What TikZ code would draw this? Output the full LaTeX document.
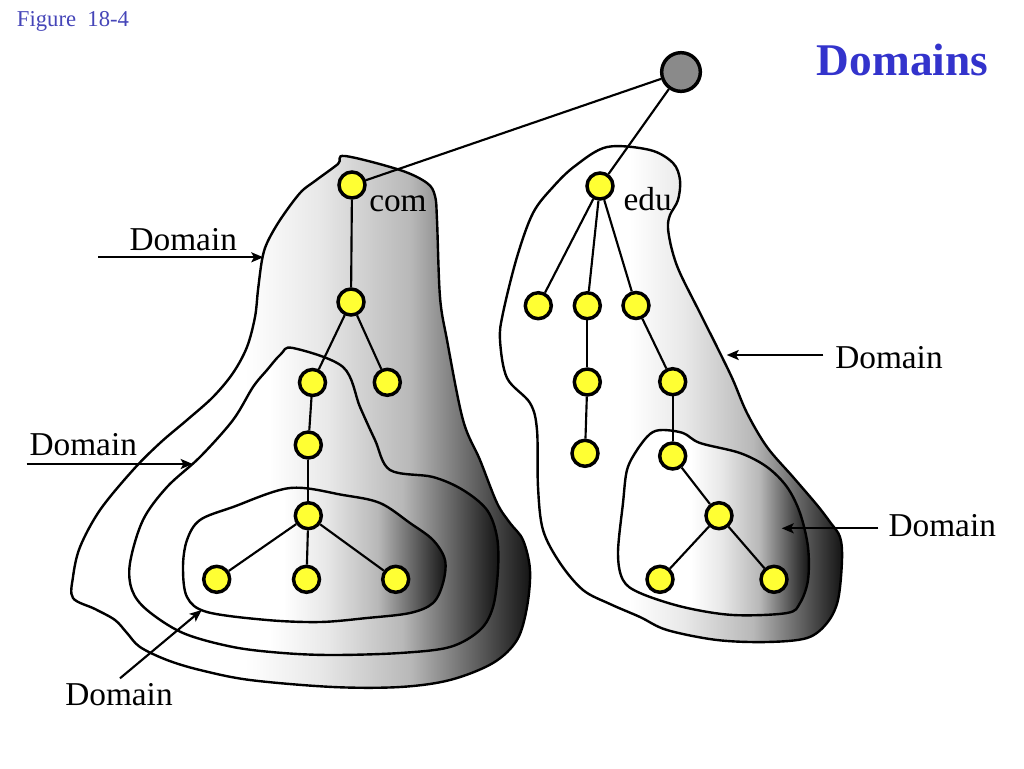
\documentclass[tikz,border=0pt]{standalone}
\usepackage{fontspec}
\setmainfont{Liberation Serif}
\usetikzlibrary{arrows.meta}
\definecolor{nodeyellow}{rgb}{1,1,0.2}
\definecolor{rootgray}{rgb}{0.54,0.54,0.54}
\definecolor{titleblue}{rgb}{0.2,0.2,0.8}
\definecolor{figblue}{rgb}{0.27,0.27,0.72}
\pgfdeclarehorizontalshading{blobshade}{100bp}{color(0bp)=(white); color(44bp)=(white); color(52bp)=(black!9); color(62bp)=(black!28); color(69bp)=(black!62); color(75bp)=(black!92); color(100bp)=(black!92)}
\begin{document}
\begin{tikzpicture}[x=0.75pt,y=-0.75pt,
  blob/.style={draw=black, line width=1.8pt, shade, shading=blobshade},
  tnode/.style={circle, draw=black, line width=2.6pt, fill=nodeyellow, minimum size=19.5pt, inner sep=0pt},
  rootnode/.style={circle, draw=black, line width=2.6pt, fill=rootgray, minimum size=29pt, inner sep=0pt},
  treeline/.style={line width=1.6pt},
  lbl/.style={font=\fontsize{25}{30}\selectfont, inner sep=0pt, anchor=base west},
  ptr/.style={line width=1.6pt, -{Stealth[length=9pt,width=7.5pt,inset=2pt]}}]
\useasboundingbox (0,0) rectangle (1024,768);

% com outer domain
\path[blob] plot[smooth cycle, tension=0.55] coordinates {
 (345,156) (400,170) (427,183) (435,196) (437,220) (440,297) (447,340) (463,420)
 (480,460) (497,503) (510,523) (523,540) (530,570) (527,607) (517,640) (493,663)
 (450,680) (400,687) (333,687) (250,680) (200,670) (167,660) (140,647) (127,633)
 (115,620) (95,609) (73,598) (73,577) (80,547) (100,510) (133,470) (160,443)
 (187,420) (213,397) (233,373) (247,347) (255,317) (258,290) (262,260) (267,243)
 (280,220) (300,193) (315,181) (338,164)};
% com middle domain
\path[blob] plot[smooth cycle, tension=0.55] coordinates {
 (293,348) (343,367) (360,407) (375,440) (390,470) (433,477) (463,490) (487,510)
 (497,537) (498,570) (493,607) (480,630) (450,647) (400,653) (333,655) (283,653)
 (233,647) (183,633) (147,610) (132,590) (130,563) (143,520) (167,487) (200,457)
 (233,420) (253,387) (267,370) (281,354)};
% com inner domain
\path[blob] plot[smooth cycle, tension=0.55] coordinates {
 (290,488) (343,495) (380,503) (410,523) (433,540) (445,560) (443,583) (433,603)
 (410,613) (367,618) (320,622) (267,620) (207,612) (187,597) (183,567) (187,540)
 (200,520) (233,507)};
% edu outer domain
\path[blob] plot[smooth cycle, tension=0.55] coordinates {
 (607,147) (650,150) (673,163) (680,180) (678,200) (670,215) (668,228) (672,250)
 (680,273) (700,313) (720,353) (733,380) (747,413) (767,447) (793,477) (817,505)
 (830,522) (840,537) (842,560) (838,600) (827,623) (807,638) (767,642) (717,640)
 (667,630) (640,617) (610,604) (583,590) (560,563) (543,530) (538,487) (537,430)
 (530,403) (507,378) (500,340) (503,313) (517,257) (533,213) (553,187) (575,166)};
% edu inner domain
\path[blob] plot[smooth cycle, tension=0.55] coordinates {
 (662,430) (683,433) (700,443) (740,453) (767,467) (787,487) (800,513) (808,547)
 (808,580) (800,603) (787,613) (733,615) (683,607) (640,593) (623,580) (618,553)
 (623,503) (627,470) (637,450) (650,434)};

% nodes
\node[rootnode] (r) at (681,72) {};
\node[tnode] (c0) at (352,185) {};
\node[tnode] (c1) at (351,302) {};
\node[tnode] (c2L) at (312.5,382.5) {};
\node[tnode] (c2R) at (387.3,382.3) {};
\node[tnode] (c3) at (308.3,445) {};
\node[tnode] (c4) at (308.3,515.7) {};
\node[tnode] (c5a) at (216.7,579.3) {};
\node[tnode] (c5b) at (306.5,579.3) {};
\node[tnode] (c5c) at (395.7,579.3) {};
\node[tnode] (e0) at (600,186) {};
\node[tnode] (e1a) at (538.3,305.7) {};
\node[tnode] (e1b) at (587.3,305.7) {};
\node[tnode] (e1c) at (636,305.5) {};
\node[tnode] (e2b) at (587.3,382) {};
\node[tnode] (e3b) at (585,453.3) {};
\node[tnode] (e2c) at (672.7,381.7) {};
\node[tnode] (e3c) at (672.7,456) {};
\node[tnode] (e4) at (719,515.7) {};
\node[tnode] (e5a) at (660,579.3) {};
\node[tnode] (e5b) at (774,579.3) {};

% tree lines
\draw[treeline] (r) -- (c0);
\draw[treeline] (r) -- (e0);
\draw[treeline] (c0) -- (c1);
\draw[treeline] (c1) -- (c2L);
\draw[treeline] (c1) -- (c2R);
\draw[treeline] (c2L) -- (c3);
\draw[treeline] (c3) -- (c4);
\draw[treeline] (c4) -- (c5a);
\draw[treeline] (c4) -- (c5b);
\draw[treeline] (c4) -- (c5c);
\draw[treeline] (e0) -- (e1a);
\draw[treeline] (e0) -- (e1b);
\draw[treeline] (e0) -- (e1c);
\draw[treeline] (e1b) -- (e2b);
\draw[treeline] (e2b) -- (e3b);
\draw[treeline] (e1c) -- (e2c);
\draw[treeline] (e2c) -- (e3c);
\draw[treeline] (e3c) -- (e4);
\draw[treeline] (e4) -- (e5a);
\draw[treeline] (e4) -- (e5b);

% labels
\node[lbl] (lcom) at (369,211) {com};
\node[lbl] (ledu) at (623.3,210) {edu};
\node[lbl] (d1) at (129.3,250.5) {Domain};
\node[lbl] (d2) at (29.3,455.5) {Domain};
\node[lbl] (d3) at (65,705) {Domain};
\node[lbl] (d4) at (835,368) {Domain};
\node[lbl] (d5) at (888.3,536.7) {Domain};
\node[anchor=base west, inner sep=0pt, font=\fontsize{34}{40}\selectfont\bfseries, text=titleblue] (title) at (816.7,75) {Domains};
\node[anchor=base west, inner sep=0pt, font=\fontsize{17}{20}\selectfont, text=figblue] (fig) at (16.7,26.7) {Figure\ \ 18-4};

% arrows
\coordinate (a1s) at (98.3,257.3);  \coordinate (a1t) at (263.3,257.3);
\coordinate (a2s) at (26.7,464);    \coordinate (a2t) at (192.7,464);
\coordinate (a3s) at (120,678.3);   \coordinate (a3t) at (201.7,610);
\coordinate (a4s) at (823.3,355);   \coordinate (a4t) at (726.7,355);
\coordinate (a5s) at (878.3,528.3); \coordinate (a5t) at (781.7,528.3);
\draw[ptr] (a1s) -- (a1t);
\draw[ptr] (a2s) -- (a2t);
\draw[ptr] (a3s) -- (a3t);
\draw[ptr] (a4s) -- (a4t);
\draw[ptr] (a5s) -- (a5t);
\end{tikzpicture}
\end{document}
